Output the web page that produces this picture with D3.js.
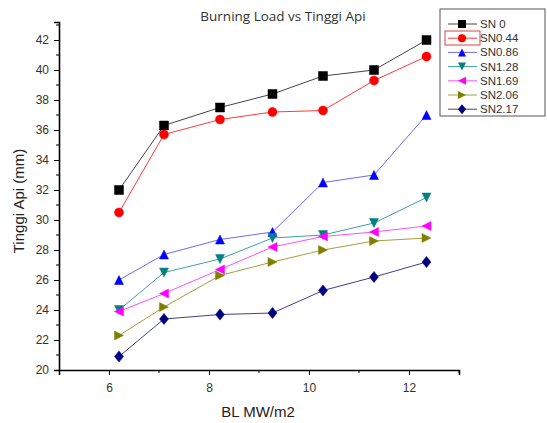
<!DOCTYPE html>
<html lang="en">
<head>
<meta charset="utf-8">
<title>Burning Load vs Tinggi Api</title>
<script src="https://d3js.org/d3.v7.min.js"></script>
<style>
  body { margin: 0; background: #fff; }
  svg { display: block; }
  .tick text { font-family: "Liberation Sans", Arial, sans-serif; font-size: 12px; fill: #333; }
</style>
</head>
<body>
<script>
// data
var blValues = [6.2, 7.1, 8.22, 9.27, 10.28, 11.3, 12.35];
var seriesNames = ["SN 0", "SN0.44", "SN0.86", "SN1.28", "SN1.69", "SN2.06", "SN2.17"];
var sn0   = [32.0, 36.3, 37.5, 38.4, 39.6, 40.0, 42.0];
var sn044 = [30.5, 35.7, 36.7, 37.2, 37.3, 39.3, 40.9];
var sn086 = [26.0, 27.7, 28.7, 29.2, 32.5, 33.0, 37.0];
var sn128 = [24.0, 26.5, 27.4, 28.8, 29.0, 29.8, 31.5];
var sn169 = [23.9, 25.1, 26.7, 28.2, 28.9, 29.2, 29.6];
var sn206 = [22.3, 24.2, 26.3, 27.2, 28.0, 28.6, 28.8];
var sn217 = [20.9, 23.4, 23.7, 23.8, 25.3, 26.2, 27.2];
var xTicks = [6, 8, 10, 12];
var yTicks = [20, 22, 24, 26, 28, 30, 32, 34, 36, 38, 40, 42];

var allValues = [sn0, sn044, sn086, sn128, sn169, sn206, sn217];
var markerColors = ["#000000", "#ff0000", "#0000ff", "#008080", "#ff00ff", "#808000", "#000080"];
var lineColors = ["#444444", "#ff3a3a", "#6a6aff", "#40a0a0", "#ff50ff", "#a0a040", "#404090"];
var shapes = ["square", "circle", "up", "down", "left", "right", "diamond"];

var width = 547, height = 423;
var svg = d3.select("body").append("svg")
    .attr("width", width)
    .attr("height", height);

var x = d3.scaleLinear().domain([5, 13]).range([59, 459]);
var y = d3.scaleLinear().domain([20, 43.2]).range([370, 22]);

// axes
var xAxis = svg.append("g")
    .attr("transform", "translate(0," + y(20) + ")")
    .call(d3.axisBottom(x).tickValues(xTicks).tickSize(5).tickPadding(8).tickFormat(d3.format("d")));
xAxis.append("g").selectAll("line")
    .data([7, 9, 11, 13])
    .enter().append("line")
    .attr("x1", function (d) { return x(d); })
    .attr("x2", function (d) { return x(d); })
    .attr("y1", 0).attr("y2", 3)
    .attr("stroke", "#000");

var yAxis = svg.append("g")
    .attr("transform", "translate(" + x(5) + ",0)")
    .call(d3.axisLeft(y).tickValues(yTicks).tickSize(5).tickPadding(5).tickFormat(d3.format("d")));
yAxis.append("g").selectAll("line")
    .data(d3.range(21, 44, 2))
    .enter().append("line")
    .attr("y1", function (d) { return y(d); })
    .attr("y2", function (d) { return y(d); })
    .attr("x1", 0).attr("x2", -3)
    .attr("stroke", "#000");

svg.selectAll(".domain").attr("stroke", "#000").attr("stroke-width", 1.6);
svg.selectAll(".tick line").attr("stroke", "#000");

// titles
svg.append("text")
    .attr("x", 283).attr("y", 21)
    .attr("text-anchor", "middle")
    .attr("font-family", "'Open Sans', 'Noto Sans', sans-serif")
    .attr("font-size", 13.5)
    .attr("fill", "#333")
    .text("Burning Load vs Tinggi Api");

svg.append("text")
    .attr("transform", "translate(24," + 201 + ") rotate(-90)")
    .attr("text-anchor", "middle")
    .attr("font-family", "'Liberation Sans', Arial, sans-serif")
    .attr("font-size", 15)
    .attr("fill", "#222")
    .text("Tinggi Api (mm)");

svg.append("text")
    .attr("x", 258).attr("y", 417)
    .attr("text-anchor", "middle")
    .attr("font-family", "'Liberation Sans', Arial, sans-serif")
    .attr("font-size", 15)
    .attr("fill", "#222")
    .text("BL MW/m2");

// marker shapes
function markerPath(shape, s) {
    if (shape === "square") return d3.symbol(d3.symbolSquare, s * s)();
    if (shape === "circle") return d3.symbol(d3.symbolCircle, Math.PI * s * s / 4)();
    if (shape === "diamond") return "M0," + (-s * 0.62) + "L" + (s * 0.5) + ",0L0," + (s * 0.62) + "L" + (-s * 0.5) + ",0Z";
    var h = s * 0.5;
    return "M0," + (-h) + "L" + h + "," + h + "L" + (-h) + "," + h + "Z";
}
function markerRotate(shape) {
    if (shape === "down") return 180;
    if (shape === "left") return -90;
    if (shape === "right") return 90;
    return 0;
}

var line = d3.line()
    .x(function (d, i) { return x(blValues[i]); })
    .y(function (d) { return y(d); });

allValues.forEach(function (vals, k) {
    var g = svg.append("g");
    g.append("path")
        .attr("d", line(vals))
        .attr("fill", "none")
        .attr("stroke", lineColors[k])
        .attr("stroke-width", 1);
    g.selectAll("path.m")
        .data(vals)
        .enter().append("path")
        .attr("class", "m")
        .attr("d", markerPath(shapes[k], 9))
        .attr("transform", function (d, i) {
            return "translate(" + x(blValues[i]) + "," + y(d) + ") rotate(" + markerRotate(shapes[k]) + ")";
        })
        .attr("fill", markerColors[k])
        .attr("stroke", markerColors[k])
        .attr("stroke-width", 0.5);
});

// legend
var legend = svg.append("g");
legend.append("rect")
    .attr("x", 440).attr("y", 9)
    .attr("width", 105).attr("height", 107)
    .attr("fill", "#fff")
    .attr("stroke", "#555")
    .attr("stroke-width", 1);
legend.append("rect")
    .attr("x", 445).attr("y", 31)
    .attr("width", 35).attr("height", 14)
    .attr("fill", "none")
    .attr("stroke", "#e04040")
    .attr("stroke-width", 1);
seriesNames.forEach(function (name, k) {
    var ly = 24 + k * 14.2;
    legend.append("line")
        .attr("x1", 448).attr("x2", 477)
        .attr("y1", ly).attr("y2", ly)
        .attr("stroke", lineColors[k])
        .attr("stroke-width", 1);
    legend.append("path")
        .attr("d", markerPath(shapes[k], 8))
        .attr("transform", "translate(462," + ly + ") rotate(" + markerRotate(shapes[k]) + ")")
        .attr("fill", markerColors[k]);
    legend.append("text")
        .attr("x", 480).attr("y", ly + 4)
        .attr("font-family", "'Liberation Sans', Arial, sans-serif")
        .attr("font-size", 11.5)
        .attr("fill", "#333")
        .text(name);
});
</script>
</body>
</html>
